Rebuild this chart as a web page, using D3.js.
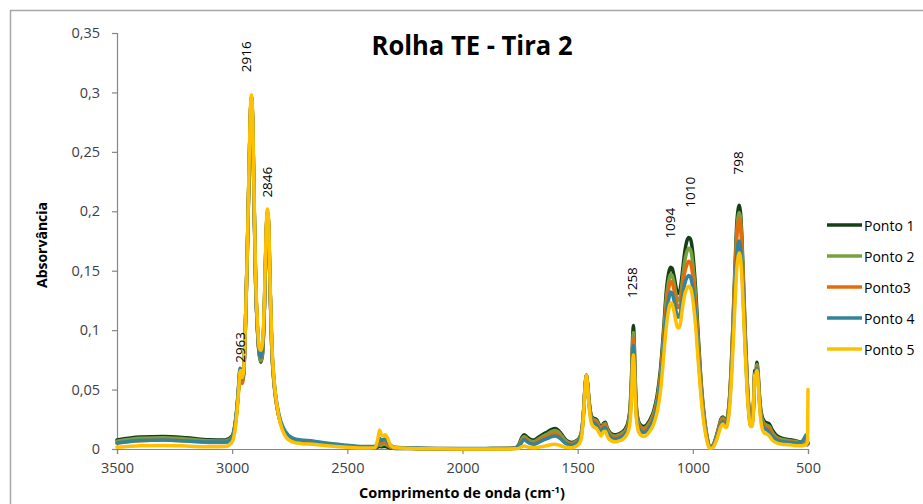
<!DOCTYPE html>
<html><head><meta charset="utf-8">
<script src="https://cdn.jsdelivr.net/npm/d3@7"></script>
<style>body{margin:0;background:#fff;}svg{display:block;}</style>
</head><body>
<svg id="chart" width="923" height="504"></svg>
<script>
const title = "Rolha TE - Tira 2";
const yTitle = "Absorvância";
const xTitle = "Comprimento de onda (cm";
const seriesNames = ["Ponto 1", "Ponto 2", "Ponto3", "Ponto 4", "Ponto 5"];
const seriesColors = ["#173f17", "#77a13d", "#e46c0a", "#31849b", "#ffc000"];
const xTicks = [3500, 3000, 2500, 2000, 1500, 1000, 500];
const yTicks = [0, 0.05, 0.1, 0.15, 0.2, 0.25, 0.3, 0.35];
const yTickLabels = ["0", "0,05", "0,1", "0,15", "0,2", "0,25", "0,3", "0,35"];
const peakLabels = ["2916", "2846", "2963", "1258", "1094", "1010", "798"];
const peakWn = [2916, 2846, 2963, 1258, 1094, 1010, 798];
const peakLabelLevel = [0.317, 0.2115, 0.0725, 0.127, 0.177, 0.203, 0.231];

const wavenumber = [3500,3400,3300,3200,3100,3030,3000,2990,2980,2972,2966,2961,2956,2950,2943,2935,2927,2921,2916,2911,2905,2898,2890,2882,2875,2868,2860,2853,2847,2842,2836,2828,2818,2805,2790,2770,2740,2700,2650,2600,2500,2420,2380,2368,2360,2353,2345,2335,2325,2312,2290,2200,2100,2000,1900,1800,1770,1755,1742,1732,1722,1705,1690,1670,1650,1630,1612,1598,1585,1570,1555,1540,1525,1510,1495,1484,1475,1468,1462,1457,1450,1442,1433,1425,1417,1408,1398,1388,1380,1372,1362,1350,1335,1320,1305,1292,1280,1272,1266,1261,1258,1255,1251,1246,1238,1228,1215,1200,1185,1170,1155,1140,1127,1115,1105,1097,1090,1082,1074,1066,1059,1052,1044,1035,1026,1018,1011,1004,997,988,978,967,956,945,935,926,917,908,898,888,878,870,863,856,848,840,832,824,816,809,803,798,793,787,780,772,764,756,750,743,737,731,727,722,717,711,705,697,688,678,668,655,640,620,600,580,560,540,525,515,508,504,502,500];

const ponto1 = [.0075,.010,.0105,.0095,.0078,.0075,.011,.018,.033,.052,.066,.066,.058,.064,.10,.16,.23,.28,.296,.275,.21,.14,.10,.079,.073,.08,.12,.175,.199,.19,.14,.085,.055,.035,.022,.013,.008,.006,.0052,.004,.0022,.0012,.001,.0015,.0022,.0018,.002,.0022,.0015,.0008,.0005,.0003,.0002,.0002,.0003,.0005,.001,.004,.010,.012,.0105,.008,.0075,.010,.0125,.0145,.0165,.0172,.016,.0125,.0085,.0062,.0055,.0065,.0085,.014,.03,.052,.062,.055,.04,.029,.026,.0255,.0245,.021,.018,.0215,.0225,.018,.0145,.0125,.012,.0128,.0145,.0175,.024,.036,.062,.095,.104,.094,.065,.038,.025,.0205,.019,.0205,.025,.032,.045,.068,.10,.133,.148,.153,.152,.146,.137,.131,.131,.138,.151,.166,.175,.178,.177,.171,.158,.135,.10,.065,.038,.019,.007,.001,.002,.005,.011,.018,.025,.027,.025,.024,.029,.045,.075,.115,.158,.19,.202,.205,.199,.178,.14,.095,.058,.033,.023,.024,.036,.066,.061,.073,.065,.046,.033,.026,.023,.022,.021,.016,.012,.0095,.0085,.0078,.0072,.0062,.0055,.005,.0042,.0035,.004,.005];
const ponto2 = [.0065,.009,.0095,.0085,.007,.0068,.010,.017,.032,.051,.065,.064,.057,.063,.10,.16,.23,.28,.296,.275,.21,.14,.10,.079,.074,.081,.12,.175,.199,.19,.14,.085,.055,.035,.022,.013,.008,.0062,.0055,.0042,.0024,.0014,.0013,.003,.004,.003,.004,.0042,.003,.0015,.0008,.0005,.0003,.0003,.0003,.0004,.0008,.003,.0085,.0105,.009,.0068,.0063,.0085,.011,.0128,.0148,.0155,.0145,.0112,.0075,.0055,.0048,.006,.008,.013,.03,.052,.062,.055,.039,.028,.025,.0245,.0235,.02,.017,.0205,.0215,.017,.0135,.0115,.011,.0118,.0135,.016,.022,.034,.058,.09,.098,.089,.061,.036,.0235,.0192,.0175,.019,.0232,.030,.042,.064,.095,.127,.141,.147,.146,.14,.131,.125,.125,.131,.144,.158,.166,.169,.168,.162,.150,.128,.095,.062,.036,.018,.0065,.001,.0018,.0045,.010,.017,.024,.026,.024,.023,.028,.044,.073,.112,.154,.184,.196,.199,.194,.173,.136,.093,.057,.032,.022,.023,.035,.064,.059,.071,.063,.044,.031,.024,.021,.020,.019,.014,.0105,.0085,.0075,.007,.0065,.0058,.0052,.005,.0045,.004,.004,.0045];
const ponto3 = [.005,.007,.0075,.0068,.0055,.0055,.009,.016,.031,.050,.064,.061,.055,.062,.10,.16,.23,.28,.296,.275,.21,.14,.10,.080,.076,.083,.12,.175,.199,.19,.14,.085,.055,.035,.022,.013,.008,.0062,.0055,.0042,.0024,.0014,.0015,.004,.006,.005,.006,.006,.0045,.002,.001,.0006,.0004,.0003,.0003,.0004,.0006,.002,.007,.009,.0075,.0055,.005,.007,.009,.0105,.0122,.013,.012,.009,.006,.0045,.004,.005,.007,.012,.029,.051,.062,.054,.038,.027,.024,.0235,.022,.019,.016,.0195,.020,.016,.0125,.0105,.0098,.0105,.012,.0145,.020,.031,.055,.086,.093,.084,.058,.034,.022,.0178,.016,.0175,.0215,.028,.039,.060,.09,.121,.135,.141,.140,.134,.125,.119,.119,.125,.137,.149,.155,.158,.157,.151,.140,.120,.089,.058,.034,.017,.006,.001,.0016,.004,.009,.016,.023,.025,.023,.022,.027,.043,.071,.108,.148,.178,.19,.194,.188,.168,.132,.090,.055,.031,.021,.022,.033,.062,.057,.069,.061,.042,.029,.022,.019,.018,.017,.012,.009,.0072,.0065,.006,.0055,.005,.0048,.005,.006,.0055,.005,.0045];
const ponto4 = [.005,.0072,.0075,.0068,.0058,.0058,.0095,.017,.033,.053,.068,.066,.059,.064,.10,.16,.23,.28,.296,.275,.21,.14,.10,.081,.077,.084,.12,.175,.199,.19,.14,.087,.057,.037,.024,.015,.0095,.0075,.0068,.0052,.0032,.002,.002,.006,.009,.007,.008,.0085,.006,.003,.0015,.0008,.0005,.0004,.0004,.0004,.0006,.002,.006,.008,.0065,.0045,.004,.0055,.0075,.009,.0105,.011,.0102,.0078,.005,.0038,.0035,.0045,.0068,.012,.029,.051,.062,.054,.037,.026,.022,.0215,.020,.017,.014,.0175,.018,.014,.011,.009,.0085,.0092,.0105,.013,.018,.028,.051,.080,.087,.078,.054,.031,.0195,.0155,.0138,.0152,.019,.025,.036,.056,.085,.113,.126,.132,.131,.125,.117,.111,.111,.117,.129,.139,.144,.146,.145,.140,.130,.112,.083,.054,.031,.015,.0052,.0008,.0014,.0035,.0085,.015,.021,.023,.0215,.021,.025,.040,.066,.100,.136,.163,.173,.175,.17,.153,.121,.083,.051,.029,.020,.021,.032,.062,.056,.068,.060,.041,.027,.020,.017,.016,.014,.0105,.008,.0065,.0058,.0055,.0052,.005,.0065,.0095,.012,.0085,.006,.005];
const ponto5 = [.0015,.0028,.003,.0025,.0018,.002,.006,.013,.029,.049,.065,.066,.060,.066,.10,.16,.235,.285,.298,.28,.215,.145,.105,.085,.083,.09,.125,.18,.202,.193,.145,.09,.058,.036,.021,.011,.006,.0045,.004,.003,.0015,.0008,.001,.008,.016,.012,.011,.012,.009,.003,.001,.0003,.0002,.0001,.0001,.0001,.0002,.0005,.002,.0025,.002,.0012,.001,.0015,.0022,.003,.0038,.004,.0035,.0025,.0015,.0012,.001,.002,.004,.009,.027,.05,.062,.053,.035,.023,.019,.018,.017,.014,.011,.0145,.015,.011,.008,.0065,.006,.0068,.008,.0105,.015,.024,.046,.072,.079,.071,.049,.027,.016,.012,.0105,.0118,.0155,.021,.031,.049,.077,.103,.117,.123,.122,.116,.108,.102,.102,.108,.12,.13,.135,.137,.136,.131,.121,.104,.077,.05,.028,.013,.004,.0005,.0008,.0025,.007,.013,.019,.021,.019,.018,.022,.036,.060,.092,.126,.152,.162,.165,.161,.145,.115,.079,.048,.027,.019,.019,.031,.062,.055,.066,.058,.038,.024,.016,.013,.0125,.011,.0075,.0055,.0042,.0038,.0035,.003,.0028,.0028,.0032,.004,.005,.006,.05];

const seriesValues = [ponto1, ponto2, ponto3, ponto4, ponto5];

const svg = d3.select("#chart");
const font = "'Open Sans', 'Liberation Sans', sans-serif";

// chart border
svg.append("rect").attr("x", 10.5).attr("y", 10.5).attr("width", 940).attr("height", 600)
  .attr("fill", "none").attr("stroke", "#a6a6a6").attr("stroke-width", 1.5);

const x = d3.scaleLinear().domain([3500, 500]).range([117, 808]);
const y = d3.scaleLinear().domain([0, 0.35]).range([449, 33]);

// axes
const yAxis = svg.append("g").attr("transform", "translate(117,0)")
  .call(d3.axisLeft(y).tickValues(yTicks).tickSize(5).tickPadding(12)
    .tickFormat((d, i) => yTickLabels[i]));
const xAxis = svg.append("g").attr("transform", "translate(0,449)")
  .call(d3.axisBottom(x).tickValues(xTicks).tickSize(5).tickPadding(9)
    .tickFormat(d => String(d)));
[yAxis, xAxis].forEach(g => {
  g.selectAll("path.domain").attr("stroke", "#868686").attr("stroke-width", 1.2);
  g.selectAll(".tick line").attr("stroke", "#868686").attr("stroke-width", 1.2);
  g.selectAll(".tick text").attr("fill", "#404040").attr("font-family", font).attr("font-size", 14.5);
});

// series lines
const line = d3.line().x((d, i) => x(wavenumber[i])).y(d => y(d)).curve(d3.curveMonotoneX);
seriesValues.forEach((vals, k) => {
  svg.append("path").datum(vals).attr("d", line)
    .attr("fill", "none").attr("stroke", seriesColors[k]).attr("stroke-width", 3.5)
    .attr("stroke-linejoin", "round").attr("stroke-linecap", "round");
});

// peak labels
peakLabels.forEach((t, i) => {
  const nudge = peakWn[i] === 2916 ? -6 : -1;
  svg.append("text")
    .attr("transform", `translate(${x(peakWn[i]) + nudge},${y(peakLabelLevel[i])}) rotate(-90)`)
    .attr("dominant-baseline", "central")
    .attr("font-family", font).attr("font-size", 13.5).attr("fill", "#000")
    .text(t);
});

// title
svg.append("text").attr("x", 472).attr("y", 55).attr("text-anchor", "middle")
  .attr("font-family", font).attr("font-weight", "bold").attr("font-size", 26)
  .attr("textLength", 201).attr("lengthAdjust", "spacingAndGlyphs")
  .attr("fill", "#000").text(title);

// axis titles
svg.append("text").attr("transform", "translate(47,245) rotate(-90)").attr("text-anchor", "middle")
  .attr("font-family", font).attr("font-weight", "bold").attr("font-size", 14).attr("fill", "#000")
  .text(yTitle);
const xt = svg.append("text").attr("x", 462).attr("y", 498).attr("text-anchor", "middle")
  .attr("font-family", font).attr("font-weight", "bold").attr("font-size", 14.5).attr("fill", "#000");
xt.append("tspan").text(xTitle);
xt.append("tspan").attr("dy", -5).attr("font-size", 9.5).text("-1");
xt.append("tspan").attr("dy", 5).text(")");

// legend
const legend = svg.append("g");
seriesNames.forEach((n, i) => {
  const ly = 225 + i * 31;
  legend.append("line").attr("x1", 827).attr("x2", 862).attr("y1", ly).attr("y2", ly)
    .attr("stroke", seriesColors[i]).attr("stroke-width", 3.5);
  legend.append("text").attr("x", 864).attr("y", ly).attr("dominant-baseline", "central")
    .attr("font-family", font).attr("font-size", 14).attr("fill", "#000").text(n);
});
</script>
</body></html>
